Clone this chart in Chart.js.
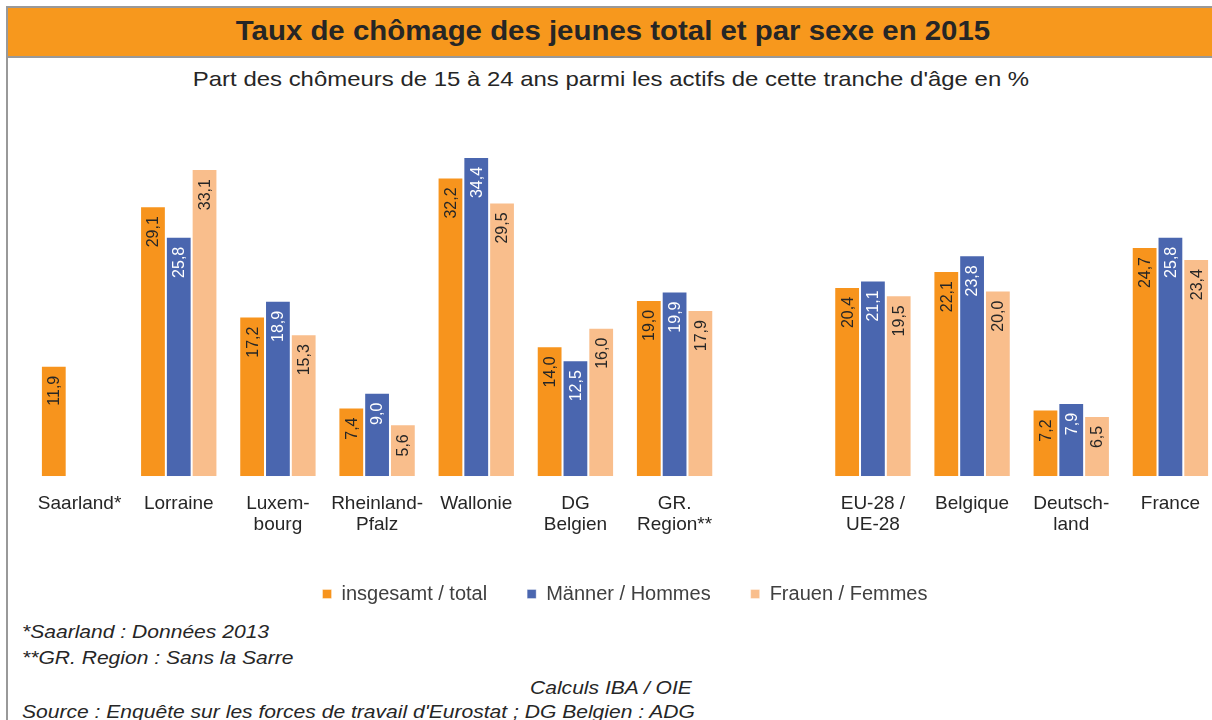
<!DOCTYPE html>
<html>
<head>
<meta charset="utf-8">
<script src="https://cdn.jsdelivr.net/npm/chart.js@4"></script>
<style>
    html, body {
        margin: 0;
        padding: 0;
        overflow: hidden;
        background: #fff;
        font-family: "Liberation Sans", Arial, sans-serif;
        color: #262626;
    }
    #frame {
        position: absolute;
        left: 6px;
        top: 6px;
        width: 1240px;
        height: 760px;
        border-left: 2px solid #999;
        border-top: 2px solid #999;
    }
    #titleBar {
        position: absolute;
        left: 8px;
        top: 8px;
        width: 1230px;
        height: 48px;
        background: #F7981D;
        border-bottom: 2px solid #999;
    }
    #title {
        position: absolute;
        left: 0;
        width: 1226px;
        top: 15px;
        text-align: center;
        font-weight: bold;
        font-size: 28px;
        color: #262626;
        transform: scaleX(1.05);
    }
    #subtitle {
        position: absolute;
        left: 0;
        width: 1222px;
        top: 67px;
        text-align: center;
        font-size: 21px;
        color: #262626;
        transform: scaleX(1.14);
    }
    #chartBox {
        position: absolute;
        left: 0;
        top: 100px;
        width: 1240px;
        height: 514px;
    }
    .note {
        position: absolute;
        font-style: italic;
        font-size: 18px;
        color: #262626;
        white-space: nowrap;
        transform: scaleX(1.17);
        transform-origin: left center;
    }
</style>
</head>
<body>
<div id="frame"></div>
<div id="titleBar"></div>
<div id="title">Taux de chômage des jeunes total et par sexe en 2015</div>
<div id="subtitle">Part des chômeurs de 15 à 24 ans parmi les actifs de cette tranche d'âge en %</div>
<div id="chartBox"><canvas id="youthChart"></canvas></div>
<div class="note" style="left:22px; top:622px;">*Saarland : Données 2013</div>
<div class="note" style="left:22px; top:648px;">**GR. Region : Sans la Sarre</div>
<div class="note" style="left:530px; top:678px;">Calculs IBA / OIE</div>
<div class="note" style="left:22px; top:702px;">Source :  Enquête sur les forces de travail d'Eurostat ; DG Belgien : ADG</div>

<script>
const regions = [
    "Saarland*",
    "Lorraine",
    ["Luxem-", "bourg"],
    ["Rheinland-", "Pfalz"],
    "Wallonie",
    ["DG", "Belgien"],
    ["GR.", "Region**"],
    "",
    ["EU-28 /", "UE-28"],
    "Belgique",
    ["Deutsch-", "land"],
    "France"
];

const totalRate = [11.9, 29.1, 17.2, 7.4, 32.2, 14.0, 19.0, null, 20.4, 22.1, 7.2, 24.7];
const menRate = [null, 25.8, 18.9, 9.0, 34.4, 12.5, 19.9, null, 21.1, 23.8, 7.9, 25.8];
const womenRate = [null, 33.1, 15.3, 5.6, 29.5, 16.0, 17.9, null, 19.5, 20.0, 6.5, 23.4];

const seriesNames = ["insgesamt / total", "Männer / Hommes", "Frauen / Femmes"];

const colors = {
    total: "#F7941D",
    men: "#4A66AF",
    women: "#F9BE8C",
    text: "#262626"
};

// value labels, rotated, inside the end of each bar
const valueLabels = {
    id: "valueLabels",
    afterDatasetsDraw(chart) {
        const ctx = chart.ctx;
        ctx.save();
        ctx.font = "16px 'Liberation Sans', Arial, sans-serif";
        ctx.textBaseline = "middle";
        ctx.textAlign = "right";

        chart.data.datasets.forEach((ds, i) => {
            const meta = chart.getDatasetMeta(i);
            meta.data.forEach((bar, j) => {
                const v = ds.data[j];
                if (v === null || v === undefined) return;
                ctx.save();
                ctx.translate(bar.x + 1, bar.y + 10);
                ctx.rotate(-Math.PI / 2);
                ctx.fillStyle = ds.labelColor;
                ctx.fillText(v.toFixed(1).replace(".", ","), 0, 0);
                ctx.restore();
            });
        });

        ctx.restore();
    }
};

new Chart(document.getElementById("youthChart"), {
    type: "bar",
    data: {
        labels: regions,
        datasets: [
            {
                label: seriesNames[0],
                data: totalRate,
                backgroundColor: colors.total,
                borderColor: "rgba(255,255,255,0.35)",
                borderWidth: 1,
                labelColor: colors.text
            },
            {
                label: seriesNames[1],
                data: menRate,
                backgroundColor: colors.men,
                borderColor: "rgba(255,255,255,0.35)",
                borderWidth: 1,
                labelColor: "#ffffff"
            },
            {
                label: seriesNames[2],
                data: womenRate,
                backgroundColor: colors.women,
                borderColor: "rgba(255,255,255,0.35)",
                borderWidth: 1,
                labelColor: colors.text
            }
        ]
    },
    options: {
        responsive: true,
        maintainAspectRatio: false,
        animation: false,
        categoryPercentage: 0.78,
        barPercentage: 1,
        layout: {
            padding: { left: 30, right: 20, top: 5, bottom: 0 }
        },
        plugins: {
            legend: {
                position: "bottom",
                labels: {
                    boxWidth: 9,
                    boxHeight: 9,
                    padding: 40,
                    color: "#404040",
                    font: { family: "'Liberation Sans', Arial, sans-serif", size: 20 }
                }
            },
            tooltip: { enabled: false }
        },
        scales: {
            x: {
                grid: { display: false },
                border: { display: false },
                ticks: {
                    color: colors.text,
                    maxRotation: 0,
                    autoSkip: false,
                    padding: 9,
                    font: { family: "'Liberation Sans', Arial, sans-serif", size: 19, lineHeight: 1.1 }
                }
            },
            y: {
                display: false,
                min: 0,
                max: 40
            }
        }
    },
    plugins: [valueLabels]
});
</script>
</body>
</html>
